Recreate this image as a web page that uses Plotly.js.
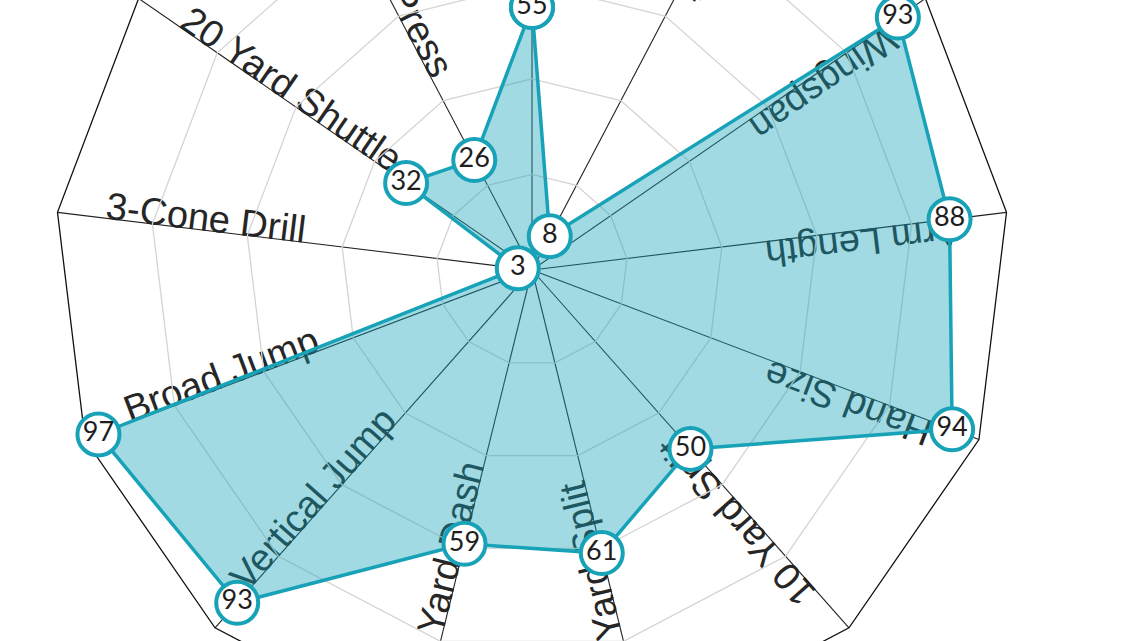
<!DOCTYPE html>
<html>
<head>
<meta charset="utf-8">
<script src="https://cdn.plot.ly/plotly-3.0.1.min.js"></script>
<style>
html, body { margin: 0; padding: 0; width: 1140px; height: 641px; overflow: hidden; background: #fff; }
#chart { position: absolute; }
</style>
</head>
<body>
<div id="chart"></div>
<script>
// combine percentiles, clockwise from the top spoke
var categories = ["Height", "Weight", "Wingspan", "Arm Length", "Hand Size", "10 Yard Split",
    "20 Yard Split", "40 Yard Dash", "Vertical Jump", "Broad Jump", "3-Cone Drill",
    "20 Yard Shuttle", "Bench Press"];
var percentiles = [55, 8, 93, 88, 94, 50, 61, 59, 93, 97, 3, 32, 26];
var ringValues = [20, 40, 60, 80];

// the radar is bigger than the window, so the div is placed off-page
var CX = 532, CY = 270, R = 478, PAD = 20;
var ROTATION = 90;
var LABEL_START = 90;      // label text starts at this radial value and runs inward
var LABEL_SIZE = 38;
var LABEL_FONT = 'Liberation Sans, Arial, sans-serif';
var SIZE = 2 * R + 2 * PAD;

var el = document.getElementById('chart');
el.style.left = (CX - SIZE / 2) + 'px';
el.style.top = (CY - SIZE / 2) + 'px';
el.style.width = SIZE + 'px';
el.style.height = SIZE + 'px';

var ctx = document.createElement('canvas').getContext('2d');
ctx.font = LABEL_SIZE + 'px "Liberation Sans"';

var step = 360 / categories.length;

// spoke labels as invisible line shapes under the trace, so the fill tints them
var shapes = categories.map(function(name, i) {
    var deg = ROTATION - i * step;
    var th = deg * Math.PI / 180;
    var w = ctx.measureText(name).width;
    var rc = LABEL_START / 100 * R - w / 2;
    var dx = -Math.cos(th), dy = -Math.sin(th);   // reading direction
    var ux = -dy, uy = dx;                          // text "up"
    var off = 0.33 * LABEL_SIZE + 4;
    var px = rc * Math.cos(th) + off * ux;
    var py = rc * Math.sin(th) + off * uy;
    var x = 0.5 + px / (2 * R), y = 0.5 + py / (2 * R);
    var e = 0.002;
    var ang = -(deg + 180);
    while (ang <= -180) ang += 360;
    while (ang > 180) ang -= 360;
    return {
        type: 'line', xref: 'paper', yref: 'paper', layer: 'below',
        x0: x - e * dx, y0: y - e * dy, x1: x + e * dx, y1: y + e * dy,
        line: {color: 'rgba(0,0,0,0)', width: 1},
        label: {
            text: name, textangle: ang, textposition: 'middle',
            xanchor: 'center', yanchor: 'middle', padding: 0,
            font: {family: LABEL_FONT, size: LABEL_SIZE, color: '#262626'}
        }
    };
});

var closedTheta = categories.concat([categories[0]]);
var closedR = percentiles.concat([percentiles[0]]);
var closedText = percentiles.map(String).concat(['']);

var trace = {
    type: 'scatterpolar',
    r: closedR,
    theta: closedTheta,
    mode: 'lines+markers+text',
    text: closedText,
    textposition: 'middle center',
    textfont: {family: 'Lato', size: 27, color: '#1e1e1e'},
    fill: 'toself',
    fillcolor: 'rgba(23,162,184,0.4)',
    line: {color: '#17a2b8', width: 3.5},
    marker: {size: 42, color: '#fff', line: {color: '#17a2b8', width: 4}},
    cliponaxis: false,
    hoverinfo: 'skip'
};

var layout = {
    width: SIZE,
    height: SIZE,
    margin: {l: PAD, r: PAD, t: PAD, b: PAD},
    paper_bgcolor: 'rgba(0,0,0,0)',
    showlegend: false,
    shapes: shapes,
    polar: {
        bgcolor: 'rgba(0,0,0,0)',
        gridshape: 'linear',
        domain: {x: [0, 1], y: [0, 1]},
        radialaxis: {
            range: [0, 100], tickvals: ringValues, showticklabels: false, ticks: '',
            showline: false, gridcolor: '#d4d4d4', gridwidth: 1.3, layer: 'below traces'
        },
        angularaxis: {
            type: 'category', categoryarray: categories, direction: 'clockwise',
            rotation: ROTATION, showticklabels: false, ticks: '',
            gridcolor: '#222', gridwidth: 1.1, showline: true,
            linecolor: '#111', linewidth: 1.3, layer: 'below traces'
        }
    }
};

Plotly.newPlot(el, [trace], layout, {staticPlot: true});
</script>
</body>
</html>
